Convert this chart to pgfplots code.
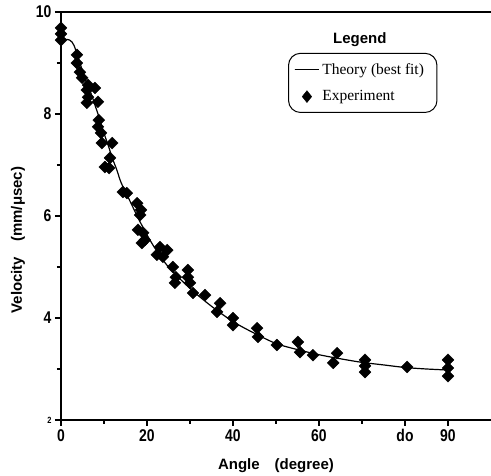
\documentclass[border=0pt]{standalone}
\usepackage{fontspec}
\setmainfont{Liberation Serif}
\newfontfamily\hv{Liberation Sans}
\newfontfamily\hvc{Liberation Sans}[FakeStretch=0.82]
\usepackage{pgfplots}
\pgfplotsset{compat=1.18}

% measured data: angle (degree), velocity (mm/usec)
\begin{document}
\begin{tikzpicture}
\begin{axis}[
    scale only axis,
    width=430pt, height=408pt,
    xmin=0, xmax=100, ymin=2, ymax=10,
    clip=false,
    axis lines=left,
    axis line style={-, line width=1.6pt},
    xtick={0,20,40,60,80,90},
    xticklabels={0,20,40,60,do,90},
    minor xtick={10,30,50,70},
    ytick={2,4,6,8,10},
    yticklabels={{\fontsize{9}{9}\selectfont 2},4,6,8,10},
    minor ytick={3,5,7,9},
    tick align=outside,
    major tick length=6pt, minor tick length=4pt,
    tick style={line width=1.2pt, black},
    ticklabel style={font=\hvc\bfseries\fontsize{17}{17}\selectfont},
    /pgf/number format/assume math mode=true,
    xlabel={Angle\quad(degree)},
    ylabel={Velocity\quad(mm/μsec)},
    label style={font=\hv\bfseries\fontsize{15}{15}\selectfont},
    x label style={at={(axis description cs:0.5,-0.113)}, anchor=center},
    y label style={at={(axis description cs:-0.1,0.441)}, anchor=center},
    legend cell align=left,
    legend image post style={xscale=0.8},
    legend style={at={(rel axis cs:0.528,0.9)}, anchor=north west,
        draw=black, line width=1pt, rounded corners=12pt,
        font=\fontsize{15.5}{17}\selectfont,
        inner xsep=11pt, inner ysep=8pt, row sep=11pt,
        column sep=6pt},
]
\addplot[black, line width=1.2pt, smooth, no marks] coordinates {
    (0,9.47) (2,9.45) (3,9.35) (4,9.1) (5,8.85) (6,8.6) (7,8.4) (8,8.15)
    (9,7.9) (10,7.62) (11,7.38) (12,7.12) (13,6.9) (14,6.65) (16,6.3)
    (18,5.95) (20,5.63) (22,5.35) (25,5.0) (30,4.58) (35,4.23) (40,3.93)
    (45,3.7) (50,3.5) (55,3.38) (60,3.28) (65,3.2) (70,3.13) (75,3.08)
    (80,3.03) (85,3.0) (90,2.98)
};
\addlegendentry{Theory (best fit)\hspace{10pt}}
\addplot[only marks, mark=square*, mark size=4.2pt,
    mark options={rotate=45, fill=black, draw=black, line width=0.4pt}] coordinates {
    (0,9.69) (0,9.57) (0,9.45)
    (3.7,9.16) (3.7,9.00) (4.4,8.82) (4.9,8.71)
    (6.3,8.57) (6.0,8.47) (7.9,8.51) (6.3,8.33) (6.0,8.22) (8.6,8.24)
    (8.8,7.88) (8.6,7.75) (9.3,7.63) (9.5,7.43) (11.9,7.43) (11.4,7.14)
    (10.2,6.96) (11.2,6.94)
    (14.4,6.47) (15.3,6.45) (17.7,6.25) (18.6,6.12) (18.4,6.02)
    (17.9,5.73) (19.1,5.67) (18.8,5.47) (19.5,5.53)
    (23.0,5.39) (22.3,5.24) (23.7,5.20) (24.7,5.33)
    (26.0,5.00) (26.7,4.80) (26.5,4.69)
    (29.5,4.94) (29.5,4.80) (30.0,4.69) (30.7,4.49) (33.5,4.45)
    (37.0,4.29) (36.3,4.12) (40.0,4.00) (40.0,3.86)
    (45.6,3.80) (45.8,3.63) (50.2,3.47)
    (55.1,3.53) (55.6,3.33) (58.6,3.27)
    (64.2,3.31) (63.3,3.12)
    (70.7,3.18) (70.7,3.06) (70.7,2.94)
    (80.5,3.04)
    (90.0,3.18) (90.0,3.02) (90.0,2.86)
};
\addlegendentry{Experiment}
\draw[line width=1.6pt] (rel axis cs:0,1) -- (rel axis cs:1,1);
\node[font=\hv\bfseries\fontsize{15}{15}\selectfont] at (rel axis cs:0.695,0.931) {Legend};
\coordinate (O) at (rel axis cs:0,0);
\end{axis}
\pgfresetboundingbox
\path (O) ++(-61pt,-56pt) rectangle ++(491pt,476pt);
\end{tikzpicture}
\end{document}
